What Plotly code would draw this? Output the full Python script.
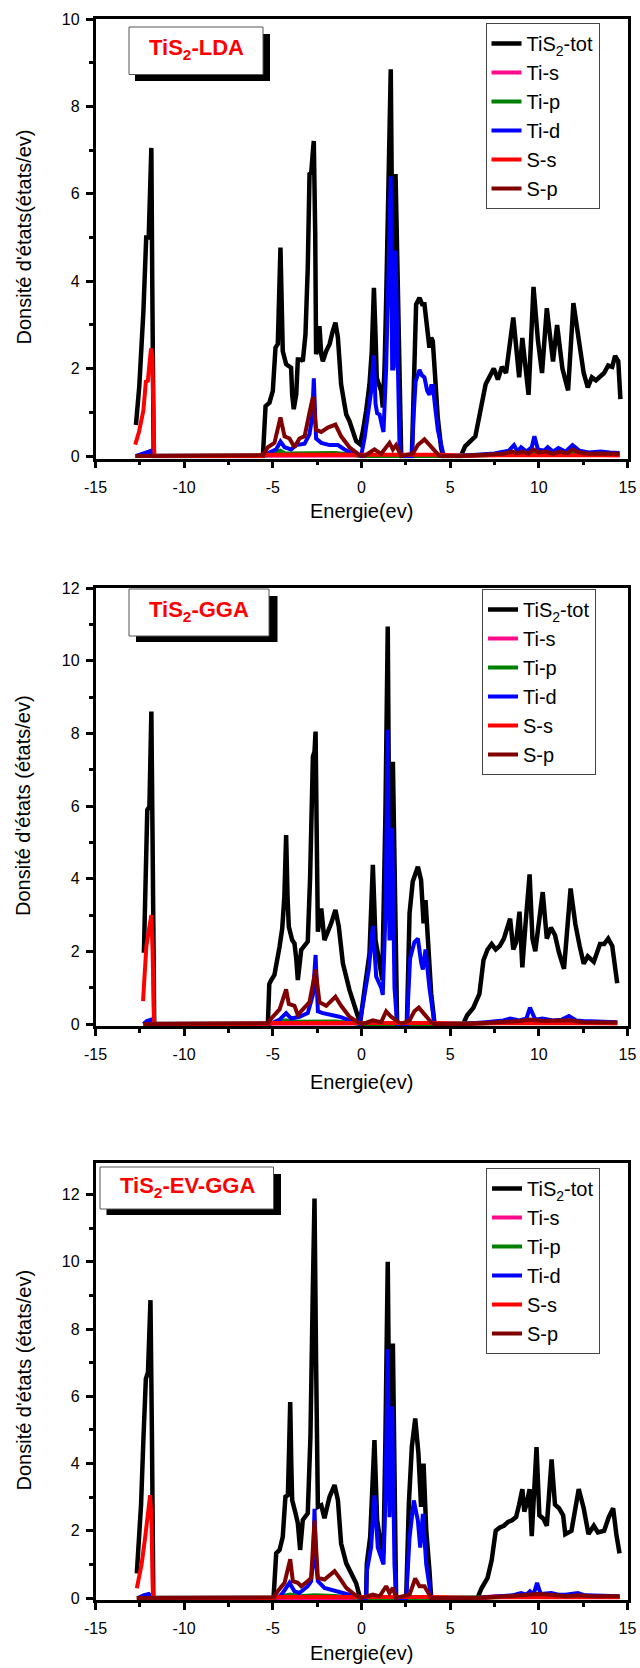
import plotly.graph_objects as go

W, H = 640, 1668

# ---------------- DATA ----------------
SERIES = ["TiS<sub>2</sub>-tot", "Ti-s", "Ti-p", "Ti-d", "S-s", "S-p"]
COLORS = ["#000000", "#FF0A8C", "#008000", "#0000FF", "#FF0000", "#800000"]
TITLES = ["<b>TiS<sub>2</sub>-LDA</b>", "<b>TiS<sub>2</sub>-GGA</b>", "<b>TiS<sub>2</sub>-EV-GGA</b>"]
YTITLES = ["Donsité d'états(états/ev)", "Donsité d'états (états/ev)", "Donsité d'états (états/ev)"]
XTITLE = "Energie(ev)"
X_TICKS = [-15, -10, -5, 0, 5, 10, 15]
X_TICKTEXT = ["-15", "-10", "-5", "0", "5", "10", "15"]

# ---- Panel 1: LDA ----
lda_tot_e = [-12.72, -12.53, -12.3, -12.14, -12.0, -11.92, -11.85, -11.8, -11.72,
             -5.56, -5.41, -5.19, -5.0, -4.85, -4.72, -4.57, -4.44, -4.25, -4.1, -3.97, -3.91, -3.82, -3.68,
             -3.59, -3.4, -3.31, -3.16, -3.03, -2.93, -2.84, -2.74, -2.69, -2.61, -2.56, -2.46, -2.37,
             -2.27, -2.18, -1.99, -1.8, -1.62, -1.47, -1.33, -1.24, -1.15, -0.96, -0.86, -0.68, -0.49,
             -0.3, -0.08, 0.08, 0.26, 0.45, 0.58, 0.7, 0.79, 0.86, 0.98, 1.11, 1.2, 1.3, 1.39, 1.48,
             1.58, 1.65, 1.73, 1.8, 1.86, 1.92, 1.99, 2.05, 2.14, 2.24, 2.84, 2.99, 3.08, 3.27, 3.42,
             3.55, 3.65, 3.74, 3.83, 3.93, 4.02, 4.12, 4.3, 4.49, 4.59,
             5.61, 5.84, 6.42, 6.77, 7.0, 7.46, 7.69, 7.92, 8.15, 8.56, 8.89, 9.07, 9.42, 9.7, 9.95,
             10.18, 10.45, 10.8, 11.03, 11.33, 11.65, 11.95, 12.25, 12.53, 12.76, 12.99, 13.22, 13.68,
             13.91, 14.14, 14.3, 14.48, 14.6]
lda_tot_v = [0.71, 1.6, 3.3, 5.0, 5.0, 6.8, 7.05, 4.0, 0.0,
             0.0, 1.14, 1.22, 1.49, 2.48, 2.56, 4.77, 2.4, 2.1, 2.06, 2.02, 1.41, 1.07, 1.41,
             2.21, 2.21, 2.17, 2.78, 4.31, 6.48, 6.45, 6.98, 7.21, 5.08, 2.33, 2.48, 2.97,
             2.33, 2.17, 2.4, 2.56, 2.86, 3.05, 2.71, 2.17, 1.64, 1.18, 0.95, 0.8, 0.57,
             0.34, 0.27, 0.57, 1.03, 1.64, 2.4, 3.85, 2.78, 1.79, 1.64, 1.49, 1.11, 2.02, 3.55, 5.45,
             7.36, 8.85, 5.07, 2.02, 4.31, 6.45, 5.07, 3.7, 1.26, 0.0, 0.0, 2.78, 3.47, 3.62, 3.47,
             3.47, 3.09, 2.63, 2.48, 2.71, 2.63, 2.02, 0.88, 0.19, 0.0,
             0.0, 0.22, 0.45, 1.12, 1.64, 2.0, 1.75, 2.04, 1.9, 3.17, 1.8, 2.7, 1.4, 3.87, 2.64,
             1.9, 3.38, 2.16, 3.0, 2.0, 1.5, 3.5, 2.7, 1.9, 1.57, 1.8, 1.73, 1.9,
             2.07, 2.04, 2.29, 2.17, 1.3]
lda_tis_e = [-12.75, -11.7, -5.56, 0.0, 5.6, 7.0, 9.7, 14.55]
lda_tis_v = [0.0, 0.0, 0.0, 0.01, 0.0, 0.02, 0.04, 0.02]
lda_tip_e = [-12.75, -12.0, -11.7, -5.56, -5.0, -4.57, -4.3, -3.0, -2.7, -1.5, -0.5, 0.0, 4.6, 5.6,
             7.0, 8.6, 9.7, 11.0, 12.0, 14.55]
lda_tip_v = [0.0, 0.03, 0.0, 0.0, 0.05, 0.12, 0.06, 0.06, 0.08, 0.07, 0.03, 0.0, 0.0, 0.0,
             0.02, 0.06, 0.1, 0.05, 0.06, 0.03]
lda_tid_e = [-12.7, -12.4, -12.1, -11.85, -11.72,
             -5.56, -5.19, -4.81, -4.57, -4.34, -3.97, -3.68, -3.21, -2.93, -2.78, -2.69, -2.6, -2.56,
             -2.27, -1.8, -1.33, -0.96, -0.49, -0.02, 0.17, 0.36, 0.55, 0.7, 0.79, 0.88, 1.02, 1.15,
             1.24, 1.39, 1.5, 1.65, 1.73, 1.8, 1.92, 2.05, 2.14, 2.24, 2.84, 2.95, 3.05, 3.27, 3.4,
             3.55, 3.7, 3.83, 3.93, 4.02, 4.15, 4.3, 4.64,
             5.6, 6.5, 7.5, 8.0, 8.3, 8.6, 8.8, 9.0, 9.3, 9.6, 9.75, 9.95, 10.3, 10.5, 10.8, 11.1,
             11.5, 11.9, 12.3, 12.8, 13.5, 14.0, 14.55]
lda_tid_v = [0.0, 0.05, 0.1, 0.12, 0.0,
             0.0, 0.08, 0.15, 0.33, 0.2, 0.15, 0.25, 0.28, 0.5, 0.9, 1.78, 0.8, 0.4,
             0.3, 0.25, 0.25, 0.15, 0.06, 0.0, 0.4, 0.9, 1.5, 2.3, 1.2, 0.98, 0.95, 0.7,
             0.55, 2.0, 4.0, 6.4, 2.0, 2.0, 4.7, 1.6, 0.3, 0.0, 0.0, 1.0, 1.7, 1.97, 1.85,
             1.8, 1.5, 1.4, 1.6, 1.6, 1.2, 0.6, 0.0,
             0.0, 0.03, 0.06, 0.1, 0.12, 0.25, 0.1, 0.2, 0.1, 0.2, 0.45, 0.15, 0.12, 0.2, 0.1, 0.18,
             0.1, 0.25, 0.12, 0.08, 0.1, 0.08, 0.07]
lda_ss_e = [-12.76, -12.55, -12.3, -12.16, -12.05, -11.95, -11.87, -11.8, -11.72, -11.68,
            -5.6, -5.4, 0.0, 4.6, 5.6, 7.0, 14.55]
lda_ss_v = [0.26, 0.55, 1.04, 1.7, 1.72, 2.1, 2.46, 2.3, 0.3, 0.0,
            0.0, 0.03, 0.03, 0.03, 0.0, 0.02, 0.02]
lda_sp_e = [-12.75, -5.56, -5.28, -4.91, -4.57, -4.34, -4.06, -3.78, -3.5, -3.21, -2.93, -2.74,
            -2.56, -2.27, -1.9, -1.47, -1.15, -0.68, -0.11, 0.17, 0.73, 1.11, 1.58, 1.77, 1.95,
            2.24, 2.89, 3.18, 3.55, 3.93, 4.4, 5.6, 6.5, 7.5, 8.0, 8.5, 8.8, 9.1, 9.4, 9.7, 10.0,
            10.4, 10.8, 11.2, 11.6, 11.9, 12.3, 12.8, 13.5, 14.55]
lda_sp_v = [0.0, 0.02, 0.2, 0.3, 0.88, 0.45, 0.4, 0.2, 0.4, 0.45, 1.0, 1.35,
            0.6, 0.55, 0.65, 0.72, 0.45, 0.2, 0.02, 0.0, 0.15, 0.05, 0.3, 0.15, 0.25,
            0.0, 0.05, 0.25, 0.38, 0.2, 0.0, 0.0, 0.02, 0.05, 0.05, 0.1, 0.06, 0.1, 0.05, 0.15, 0.08,
            0.1, 0.05, 0.1, 0.06, 0.15, 0.08, 0.05, 0.06, 0.05]

# ---- Panel 2: GGA ----
gga_tot_e = [-12.27, -12.2, -12.08, -11.96, -11.9, -11.85, -11.78, -11.69,
             -5.28, -5.2, -5.09, -4.91, -4.62, -4.47, -4.35, -4.25, -4.17, -4.1, -3.91, -3.78, -3.68,
             -3.59, -3.4, -3.03, -2.9, -2.74, -2.65, -2.59, -2.52, -2.46, -2.27, -2.09, -1.71, -1.47,
             -1.28, -1.05, -0.68, -0.34, -0.08, 0.17, 0.45, 0.64, 0.79, 1.02, 1.17, 1.35, 1.48, 1.55,
             1.62, 1.77, 1.84, 1.9, 2.01, 2.56, 2.71, 2.89, 3.18, 3.36, 3.5, 3.61, 3.74, 3.93, 4.12,
             5.73, 5.96, 6.3, 6.65, 6.88, 7.11, 7.34, 7.57, 7.8, 8.03, 8.38, 8.56, 8.72, 8.91, 9.07,
             9.25, 9.48, 9.64, 9.8, 10.22, 10.45, 10.68, 10.91, 11.14, 11.42, 11.79, 12.06, 12.3,
             12.53, 12.76, 13.1, 13.45, 13.68, 13.91, 14.14, 14.3, 14.42]
gga_tot_v = [1.96, 4.0, 5.89, 5.98, 7.5, 8.6, 5.0, 0.0,
             0.0, 1.1, 1.21, 1.35, 2.13, 2.63, 3.5, 5.2, 3.5, 2.68, 2.31, 2.22, 1.8,
             1.21, 2.04, 2.27, 4.0, 7.36, 7.5, 8.05, 5.0, 2.54, 3.18, 2.31, 2.77, 3.14,
             2.68, 1.67, 0.94, 0.39, 0.02, 0.94, 1.94, 4.38, 2.31, 1.67, 1.21, 5.8, 10.94, 6.0,
             2.31, 7.22, 5.0, 3.05, 0.0, 0.0, 3.05, 3.92, 4.33, 3.96, 2.77, 3.41, 2.31, 0.84, 0.0,
             0.0, 0.24, 0.44, 0.83, 1.76, 2.05, 2.2, 2.05, 2.15, 2.35, 2.9, 2.05, 2.25, 3.09, 1.56,
             2.75, 4.12, 2.35, 2.0, 3.63, 2.35, 2.65, 2.45, 1.96, 1.52, 3.73, 2.75, 2.15,
             1.66, 1.86, 1.71, 2.2, 2.2, 2.35, 2.15, 1.56, 1.12]
gga_tis_e = [-12.3, -11.69, -5.28, 0.0, 5.73, 7.0, 9.5, 14.42]
gga_tis_v = [0.0, 0.0, 0.0, 0.01, 0.0, 0.02, 0.04, 0.02]
gga_tip_e = [-12.3, -12.0, -11.69, -5.28, -4.8, -4.25, -4.0, -3.0, -2.6, -1.5, -0.5, 0.0, 4.1,
             5.73, 7.0, 8.4, 9.5, 11.0, 11.7, 14.42]
gga_tip_v = [0.0, 0.03, 0.0, 0.0, 0.05, 0.1, 0.06, 0.06, 0.08, 0.07, 0.03, 0.0, 0.0,
             0.0, 0.02, 0.05, 0.08, 0.05, 0.06, 0.03]
gga_tid_e = [-12.3, -12.1, -11.85, -11.7,
             -5.28, -5.0, -4.62, -4.25, -3.97, -3.5, -3.03, -2.74, -2.59, -2.46, -2.18, -1.62, -1.24,
             -0.68, -0.11, 0.17, 0.41, 0.64, 0.83, 1.11, 1.2, 1.35, 1.48, 1.58, 1.73, 1.86, 2.01,
             2.56, 2.74, 2.98, 3.18, 3.36, 3.46, 3.61, 3.83, 4.12,
             5.73, 7.0, 8.0, 8.4, 8.9, 9.3, 9.5, 9.8, 10.2, 10.8, 11.3, 11.7, 12.1, 12.5, 13.5, 14.42]
gga_tid_v = [0.0, 0.08, 0.12, 0.0,
             0.0, 0.03, 0.12, 0.3, 0.15, 0.2, 0.3, 0.8, 1.9, 0.35, 0.3, 0.25, 0.2,
             0.1, 0.0, 0.8, 1.5, 2.7, 1.3, 1.0, 0.8, 3.0, 8.1, 2.3, 5.4, 1.0, 0.0,
             0.0, 1.8, 2.25, 2.35, 1.7, 1.5, 2.05, 1.0, 0.0,
             0.0, 0.05, 0.1, 0.15, 0.1, 0.15, 0.45, 0.12, 0.15, 0.1, 0.12, 0.22, 0.1, 0.08, 0.06, 0.05]
gga_ss_e = [-12.32, -12.13, -11.95, -11.85, -11.78, -11.72, -11.69,
            -5.28, -5.1, 4.1, 5.73, 7.0, 14.42]
gga_ss_v = [0.63, 2.15, 2.7, 3.0, 2.0, 0.2, 0.0,
            0.0, 0.03, 0.03, 0.0, 0.02, 0.02]
gga_sp_e = [-12.3, -5.28, -5.09, -4.62, -4.25, -4.1, -3.78, -3.59, -3.31, -2.93, -2.74, -2.59,
            -2.37, -1.99, -1.47, -1.15, -0.68, -0.21, 0.08, 0.64, 1.11, 1.39, 1.67, 1.95, 2.24,
            2.71, 2.98, 3.23, 3.55, 3.93, 4.12, 5.73, 7.0, 8.0, 8.9, 9.5, 10.2, 11.7, 12.5, 14.42]
gga_sp_v = [0.0, 0.02, 0.15, 0.4, 0.95, 0.55, 0.5, 0.25, 0.4, 0.6, 1.1, 1.5,
            0.6, 0.5, 0.75, 0.5, 0.2, 0.05, 0.0, 0.1, 0.05, 0.35, 0.2, 0.1, 0.0,
            0.1, 0.35, 0.45, 0.25, 0.05, 0.0, 0.0, 0.03, 0.05, 0.08, 0.12, 0.08, 0.1, 0.05, 0.04]

# ---- Panel 3: EV-GGA ----
evg_tot_e = [-12.67, -12.43, -12.3, -12.16, -12.04, -11.97, -11.9, -11.82, -11.74,
             -4.96, -4.88, -4.81, -4.62, -4.44, -4.29, -4.15, -4.08, -4.02, -3.96, -3.91, -3.72, -3.59,
             -3.46, -3.31, -3.03, -2.88, -2.75, -2.65, -2.56, -2.46, -2.27, -2.09, -1.8, -1.52, -1.33,
             -1.15, -0.86, -0.58, -0.3, -0.08, 0.26, 0.3, 0.49, 0.73, 0.88, 1.05, 1.24, 1.35, 1.48,
             1.55, 1.62, 1.77, 1.84, 1.9, 1.95, 2.52, 2.67, 2.84, 3.03, 3.21, 3.36, 3.5, 3.65, 3.83,
             3.93,
             6.54, 6.77, 7.11, 7.34, 7.57, 7.8, 8.03, 8.26, 8.49, 8.72, 8.89, 9.07, 9.18, 9.3, 9.48,
             9.6, 9.87, 10.03, 10.26, 10.45, 10.72, 10.91, 11.14, 11.37, 11.49, 11.84, 12.25, 12.53,
             12.8, 13.1, 13.33, 13.68, 13.95, 14.19, 14.37, 14.55]
evg_tot_v = [0.73, 2.78, 4.7, 6.52, 6.72, 7.8, 8.86, 5.0, 0.0,
             0.0, 1.2, 1.33, 1.43, 1.82, 3.01, 3.06, 4.5, 5.83, 4.0, 2.91, 2.52, 2.22,
             1.43, 2.32, 2.52, 4.79, 9.0, 11.88, 7.0, 2.71, 2.76, 2.37, 3.01, 3.36, 2.91,
             1.62, 1.03, 0.73, 0.44, 0.0, 0.04, 1.03, 1.82, 4.7, 2.32, 1.72, 1.33, 4.79, 10.0,
             6.0, 2.71, 7.57, 5.0, 2.81, 0.0, 0.0, 2.81, 4.5, 5.34, 4.3, 2.71, 4.0, 2.02, 0.83,
             0.0,
             0.0, 0.29, 0.6, 1.12, 2.0, 2.1, 2.15, 2.26, 2.31, 2.41, 2.78, 3.24, 2.57, 2.78, 3.24,
             1.84, 4.49, 2.46, 2.36, 2.15, 4.12, 2.78, 2.67, 2.46, 1.9, 2.0, 3.24, 2.67,
             1.9, 2.15, 1.95, 2.0, 2.41, 2.67, 1.9, 1.33]
evg_tis_e = [-12.67, -11.74, -4.96, 0.0, 6.54, 7.5, 8.5, 9.9, 12.2, 14.55]
evg_tis_v = [0.0, 0.0, 0.0, 0.01, 0.0, 0.05, 0.06, 0.05, 0.04, 0.03]
evg_tip_e = [-12.67, -12.0, -11.74, -4.96, -4.5, -4.02, -3.5, -2.65, -1.52, -0.5, 0.0, 3.93,
             6.54, 7.5, 9.0, 9.9, 11.0, 12.2, 14.55]
evg_tip_v = [0.0, 0.03, 0.0, 0.0, 0.05, 0.1, 0.05, 0.08, 0.06, 0.02, 0.0, 0.0,
             0.0, 0.02, 0.05, 0.08, 0.04, 0.05, 0.03]
evg_tid_e = [-12.6, -12.3, -12.0, -11.76,
             -4.96, -4.62, -4.44, -4.06, -3.78, -3.5, -3.03, -2.84, -2.72, -2.65, -2.56, -2.46, -2.09,
             -1.52, -1.05, -0.49, -0.02, 0.26, 0.3, 0.54, 0.73, 0.92, 1.11, 1.24, 1.35, 1.48, 1.58,
             1.73, 1.86, 1.95, 2.52, 2.71, 2.95, 3.18, 3.31, 3.46, 3.65, 3.93,
             6.54, 7.5, 8.5, 9.0, 9.3, 9.5, 9.7, 9.9, 10.1, 10.7, 11.1, 11.5, 12.2, 12.6, 13.5, 14.55]
evg_tid_v = [0.0, 0.08, 0.12, 0.0,
             0.0, 0.05, 0.15, 0.45, 0.2, 0.15, 0.35, 0.5, 1.2, 2.65, 1.0, 0.5, 0.3,
             0.22, 0.15, 0.05, 0.0, 0.0, 0.8, 1.5, 3.05, 1.5, 1.2, 1.0, 3.0, 7.4, 2.4,
             5.7, 1.0, 0.0, 0.0, 1.8, 2.9, 2.3, 1.5, 2.5, 1.0, 0.0,
             0.0, 0.05, 0.08, 0.15, 0.1, 0.2, 0.1, 0.45, 0.12, 0.15, 0.1, 0.1, 0.15, 0.08, 0.06, 0.05]
evg_ss_e = [-12.67, -12.4, -12.2, -12.1, -11.92, -11.85, -11.78, -11.76,
            -4.96, -4.8, 3.9, 6.54, 7.5, 14.55]
evg_ss_v = [0.29, 1.0, 1.8, 2.32, 3.06, 2.5, 0.3, 0.0,
            0.0, 0.03, 0.03, 0.0, 0.02, 0.02]
evg_sp_e = [-12.67, -4.96, -4.72, -4.34, -4.02, -3.87, -3.59, -3.4, -3.03, -2.84, -2.65, -2.46,
            -2.09, -1.52, -1.24, -0.86, -0.39, -0.02, 0.64, 1.02, 1.39, 1.58, 1.77, 1.95, 2.71,
            3.03, 3.27, 3.55, 3.93, 6.54, 7.5, 8.5, 9.0, 9.9, 10.7, 11.5, 12.2, 13.0, 14.55]
evg_sp_v = [0.0, 0.02, 0.2, 0.45, 1.15, 0.5, 0.45, 0.35, 0.5, 0.6, 2.3, 0.6,
            0.55, 0.8, 0.6, 0.3, 0.1, 0.0, 0.1, 0.05, 0.35, 0.15, 0.3, 0.0, 0.1,
            0.58, 0.35, 0.35, 0.0, 0.0, 0.03, 0.05, 0.08, 0.12, 0.1, 0.05, 0.08, 0.05, 0.05]

PANELS = [
    dict(data=[(lda_tot_e, lda_tot_v), (lda_tis_e, lda_tis_v), (lda_tip_e, lda_tip_v),
               (lda_tid_e, lda_tid_v), (lda_ss_e, lda_ss_v), (lda_sp_e, lda_sp_v)],
         ymax=10, top=19, zero=456),
    dict(data=[(gga_tot_e, gga_tot_v), (gga_tis_e, gga_tis_v), (gga_tip_e, gga_tip_v),
               (gga_tid_e, gga_tid_v), (gga_ss_e, gga_ss_v), (gga_sp_e, gga_sp_v)],
         ymax=12, top=588, zero=1024),
    dict(data=[(evg_tot_e, evg_tot_v), (evg_tis_e, evg_tis_v), (evg_tip_e, evg_tip_v),
               (evg_tid_e, evg_tid_v), (evg_ss_e, evg_ss_v), (evg_sp_e, evg_sp_v)],
         ymax=12.94, top=1163, zero=1598),
]

# layout geometry (px)
X_LEFT, X_RIGHT = 95.5, 627.5
LEGENDS = [(485.5, 23), (482, 589), (486, 1168)]
BOXES = [  # (left, top, right, bottom, shadow_left, shadow_right, shadow_bottom, text_x, text_y)
    (129, 27, 263, 74.5, 135, 270, 81, 196, 49),
    (129, 589, 269, 636, 136, 277.5, 642, 199, 611),
    (100, 1167, 273.5, 1209, 106.5, 281, 1215, 187, 1187),
]
XTITLE_Y = [511, 1082, 1653]
YTITLE_X = 23

FONT = "Liberation Sans, Arial, sans-serif"


def px(x):
    return x / W


def py(y):
    return 1 - y / H


fig = go.Figure()
layout = dict(width=W, height=H, margin=dict(l=0, r=0, t=0, b=0),
              paper_bgcolor="white", plot_bgcolor="white",
              font=dict(family=FONT, color="black"), shapes=[], annotations=[])

for i, p in enumerate(PANELS):
    n = "" if i == 0 else str(i + 1)
    xa, ya = "x" + n, "y" + n
    leg = "legend" + n
    for j, (e, v) in enumerate(p["data"]):
        fig.add_trace(go.Scatter(
            x=e, y=v, mode="lines", name=SERIES[j], xaxis=xa, yaxis=ya, legend=leg,
            line=dict(color=COLORS[j], width=4.5 if j == 0 else 4),
            hoverinfo="skip"))
    ppu = (p["zero"] - p["top"]) / p["ymax"]
    ymin = -0.06
    bottom = p["zero"] + (-ymin) * ppu
    common = dict(showline=True, linewidth=2.5, linecolor="black", mirror=True,
                  ticks="outside", tickwidth=2.5, tickcolor="black", ticklen=7,
                  showgrid=False, zeroline=False, automargin=False,
                  tickfont=dict(family=FONT, size=16, color="black"))
    layout["xaxis" + n] = dict(common, domain=[px(X_LEFT), px(X_RIGHT)], range=[-15, 15],
                               tickmode="array", tickvals=X_TICKS, ticktext=X_TICKTEXT,
                               anchor=ya, ticklabelstandoff=5,
                               minor=dict(dtick=2.5, tick0=-15, ticks="outside", ticklen=4,
                                          tickwidth=2.5, tickcolor="black"))
    layout["yaxis" + n] = dict(common, domain=[py(bottom), py(p["top"])], range=[ymin, p["ymax"]],
                               dtick=2, tick0=0, anchor=xa, ticklabelstandoff=3,
                               minor=dict(dtick=1, tick0=0, ticks="outside", ticklen=4,
                                          tickwidth=2.5, tickcolor="black"))
    lx, ly = LEGENDS[i]
    layout[leg] = dict(x=px(lx), y=py(ly), xanchor="left", yanchor="top",
                       bgcolor="white", bordercolor="#444", borderwidth=1,
                       font=dict(family=FONT, size=20, color="black"),
                       itemwidth=30, tracegroupgap=0)
    bl, bt, br, bb, sl, sr, sb, tx, ty = BOXES[i]
    layout["shapes"].append(dict(type="rect", xref="paper", yref="paper",
                                 x0=px(sl), x1=px(sr), y0=py(sb), y1=py(bt + 7),
                                 fillcolor="black", line=dict(width=0), layer="above"))
    layout["shapes"].append(dict(type="rect", xref="paper", yref="paper",
                                 x0=px(bl), x1=px(br), y0=py(bb), y1=py(bt),
                                 fillcolor="white", line=dict(color="#555", width=1), layer="above"))
    layout["annotations"].append(dict(text=TITLES[i], xref="paper", yref="paper",
                                      x=px(tx), y=py(ty), xanchor="center", yanchor="middle",
                                      showarrow=False,
                                      font=dict(family=FONT, size=22, color="#FF0000")))
    layout["annotations"].append(dict(text=XTITLE, xref="paper", yref="paper",
                                      x=px((X_LEFT + X_RIGHT) / 2), y=py(XTITLE_Y[i]),
                                      xanchor="center", yanchor="middle", showarrow=False,
                                      font=dict(family=FONT, size=20, color="black")))
    layout["annotations"].append(dict(text=YTITLES[i], xref="paper", yref="paper",
                                      x=px(YTITLE_X), y=py((p["top"] + p["zero"]) / 2),
                                      xanchor="center", yanchor="middle", showarrow=False,
                                      textangle=-90,
                                      font=dict(family=FONT, size=20, color="black")))

fig.update_layout(**layout)
fig.write_html("out.html")
